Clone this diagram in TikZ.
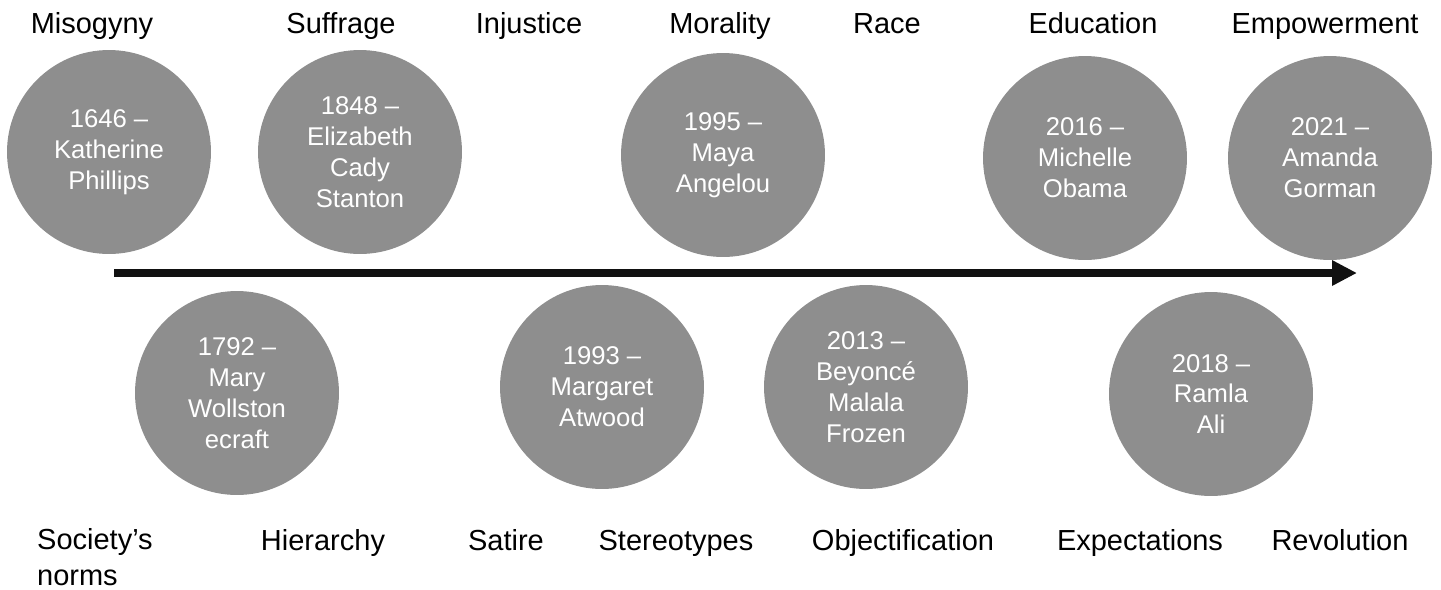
\documentclass[tikz,border=0pt]{standalone}
\usepackage{fontspec}
\setmainfont{Liberation Sans}
\usepackage{tikz}
\usetikzlibrary{arrows.meta}
\definecolor{evgray}{RGB}{142,142,142}
\definecolor{tlblack}{RGB}{17,17,17}

\begin{document}
\begin{tikzpicture}[x=0.02cm, y=-0.02cm,
    event/.style={circle, fill=evgray, minimum size=4.08cm, inner sep=0pt,
      text=white, align=center, font=\fontsize{14.6}{17.6}\selectfont},
    theme/.style={anchor=base, font=\fontsize{16.5}{20}\selectfont}]
  \useasboundingbox (0,0) rectangle (1441,589);

  % Timeline arrow
  \coordinate (tl-start) at (114,273);
  \coordinate (tl-end) at (1357,273);
  \draw[tlblack, line width=0.16cm, -{Triangle[length=0.5cm, width=0.48cm]}] (tl-start) -- (tl-end);

  % Events above the line
  \node[event] (e1646) at (109,152) {1646 –\\Katherine\\Phillips};
  \node[event] (e1848) at (360,152) {1848 –\\Elizabeth\\Cady\\Stanton};
  \node[event] (e1995) at (723,155) {1995 –\\Maya\\Angelou};
  \node[event] (e2016) at (1085,158) {2016 –\\Michelle\\Obama};
  \node[event] (e2021) at (1330,158) {2021 –\\Amanda\\Gorman};

  % Events below the line
  \node[event] (e1792) at (237,393) {1792 –\\Mary\\Wollston\\ecraft};
  \node[event] (e1993) at (602,387) {1993 –\\Margaret\\Atwood};
  \node[event] (e2013) at (866,387) {2013 –\\Beyoncé\\Malala\\Frozen};
  \node[event] (e2018) at (1211,394) {2018 –\\Ramla\\Ali};

  % Themes, top row
  \foreach \nm/\x/\txt in {misogyny/92/Misogyny, suffrage/341/Suffrage,
    injustice/529/Injustice, morality/720/Morality, race/887/Race,
    education/1093/Education, empowerment/1325/Empowerment}
    \node[theme] (\nm) at (\x,33) {\txt};

  % Themes, bottom row
  \node[theme, anchor=base west, align=left] (norms) at (31,585) {Society’s\\norms};
  \foreach \nm/\x/\txt in {hierarchy/323/Hierarchy, satire/506/Satire,
    stereotypes/676/Stereotypes, objectification/903/Objectification,
    expectations/1140/Expectations, revolution/1340/Revolution}
    \node[theme] (\nm) at (\x,550) {\txt};
\end{tikzpicture}
\end{document}
